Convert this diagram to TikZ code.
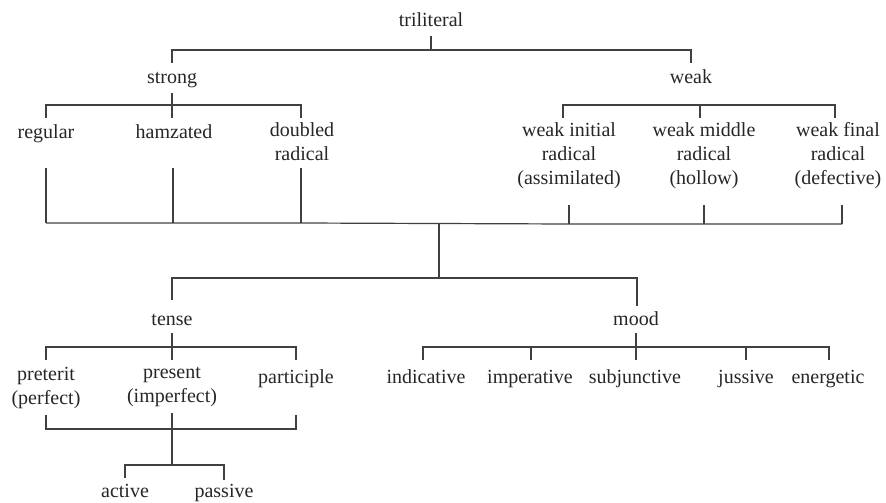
\documentclass[tikz,border=0pt]{standalone}
\usepackage{fontspec}
\setmainfont{Liberation Serif}
\begin{document}
\begin{tikzpicture}[x=1pt,y=-1pt,
  lbl/.style={anchor=base,inner sep=0pt,align=center,font=\fontsize{20}{24}\selectfont,text=black!85},
  ln/.style={draw=black!75,line width=1.2pt}]
\useasboundingbox (0,0) rectangle (886,503);
% text nodes
\node[lbl] (tri) at (431,27) {triliteral};
\node[lbl] (strong) at (172,83) {strong};
\node[lbl] (weak) at (691,83) {weak};
\node[lbl] (reg) at (46,138) {regular};
\node[lbl] (hamz) at (174,138) {hamzated};
\node[lbl,anchor=north] (dbl) at (302,122) {doubled\\radical};
\node[lbl,anchor=north] (wi) at (569,122) {weak initial\\radical\\(assimilated)};
\node[lbl,anchor=north] (wm) at (704,122) {weak middle\\radical\\(hollow)};
\node[lbl,anchor=north] (wf) at (838,122) {weak final\\radical\\(defective)};
\node[lbl] (tense) at (172,325) {tense};
\node[lbl] (mood) at (636,325) {mood};
\node[lbl,anchor=north] (pret) at (46,367) {preterit\\(perfect)};
\node[lbl,anchor=north] (pres) at (172,367) {present\\(imperfect)};
\node[lbl] (part) at (296,383) {participle};
\node[lbl] (ind) at (426,383) {indicative};
\node[lbl] (imp) at (530,383) {imperative};
\node[lbl] (sub) at (635,383) {subjunctive};
\node[lbl] (jus) at (746,383) {jussive};
\node[lbl] (ene) at (828,383) {energetic};
\node[lbl] (act) at (125,497) {active};
\node[lbl] (pas) at (224,497) {passive};
% junction coordinates
\coordinate (t0) at (431,36); \coordinate (t1) at (431,50);
\coordinate (s0) at (172,50); \coordinate (s1) at (172,63);
\coordinate (w0) at (691,50); \coordinate (w1) at (691,63);
\coordinate (sa) at (172,93); \coordinate (sb) at (172,118);
\coordinate (sl) at (46,105); \coordinate (sr) at (301,105);
\coordinate (wl) at (563,105); \coordinate (wr) at (835,105);
\coordinate (wc) at (700,105); \coordinate (wcb) at (700,118);
\coordinate (b1) at (46,223); \coordinate (b2) at (173,223); \coordinate (b3) at (301,223);
\coordinate (b4) at (569,224); \coordinate (b5) at (704,224); \coordinate (b6) at (842,224);
\coordinate (tr0) at (439,223); \coordinate (tr1) at (439,278);
\coordinate (tl) at (172,278); \coordinate (mr) at (637,278);
\coordinate (ta) at (172,333); \coordinate (tb) at (172,360);
\coordinate (tbl) at (46,347); \coordinate (tbr) at (296,347);
\coordinate (ma) at (636,333); \coordinate (mb) at (636,360);
\coordinate (mbl) at (423,347); \coordinate (mbr) at (829,347);
\coordinate (bl) at (46,429); \coordinate (br) at (296,429);
\coordinate (pa) at (172,413); \coordinate (pb) at (172,465);
\coordinate (al) at (125,465); \coordinate (ar) at (224,465);
% level 1
\draw[ln] (t0) -- (t1);
\draw[ln] (s1) -- (s0) -- (w0) -- (w1);
% strong
\draw[ln] (sa) -- (sb);
\draw[ln] (46,118) -- (sl) -- (sr) -- (301,118);
% weak
\draw[ln] (563,118) -- (wl) -- (wr) -- (835,118);
\draw[ln] (wc) -- (wcb);
% converge
\draw[ln] (46,168) -- (b1);
\draw[ln] (173,168) -- (b2);
\draw[ln] (301,168) -- (b3);
\draw[ln] (569,205) -- (b4);
\draw[ln] (704,205) -- (b5);
\draw[ln] (842,205) -- (b6);
\draw[ln] (b1) -- (b3) -- (b4) -- (b6);
% trunk
\draw[ln] (tr0) -- (tr1);
\draw[ln] (172,300) -- (tl) -- (mr) -- (637,306);
% tense
\draw[ln] (ta) -- (tb);
\draw[ln] (46,360) -- (tbl) -- (tbr) -- (296,360);
% mood
\draw[ln] (ma) -- (mb);
\draw[ln] (423,360) -- (mbl) -- (mbr) -- (829,360);
\draw[ln] (531,347) -- (531,360);
\draw[ln] (746,347) -- (746,360);
% bottom bracket
\draw[ln] (46,415) -- (bl) -- (br) -- (296,415);
\draw[ln] (pa) -- (pb);
\draw[ln] (125,478) -- (al) -- (ar) -- (224,480);
\end{tikzpicture}
\end{document}
